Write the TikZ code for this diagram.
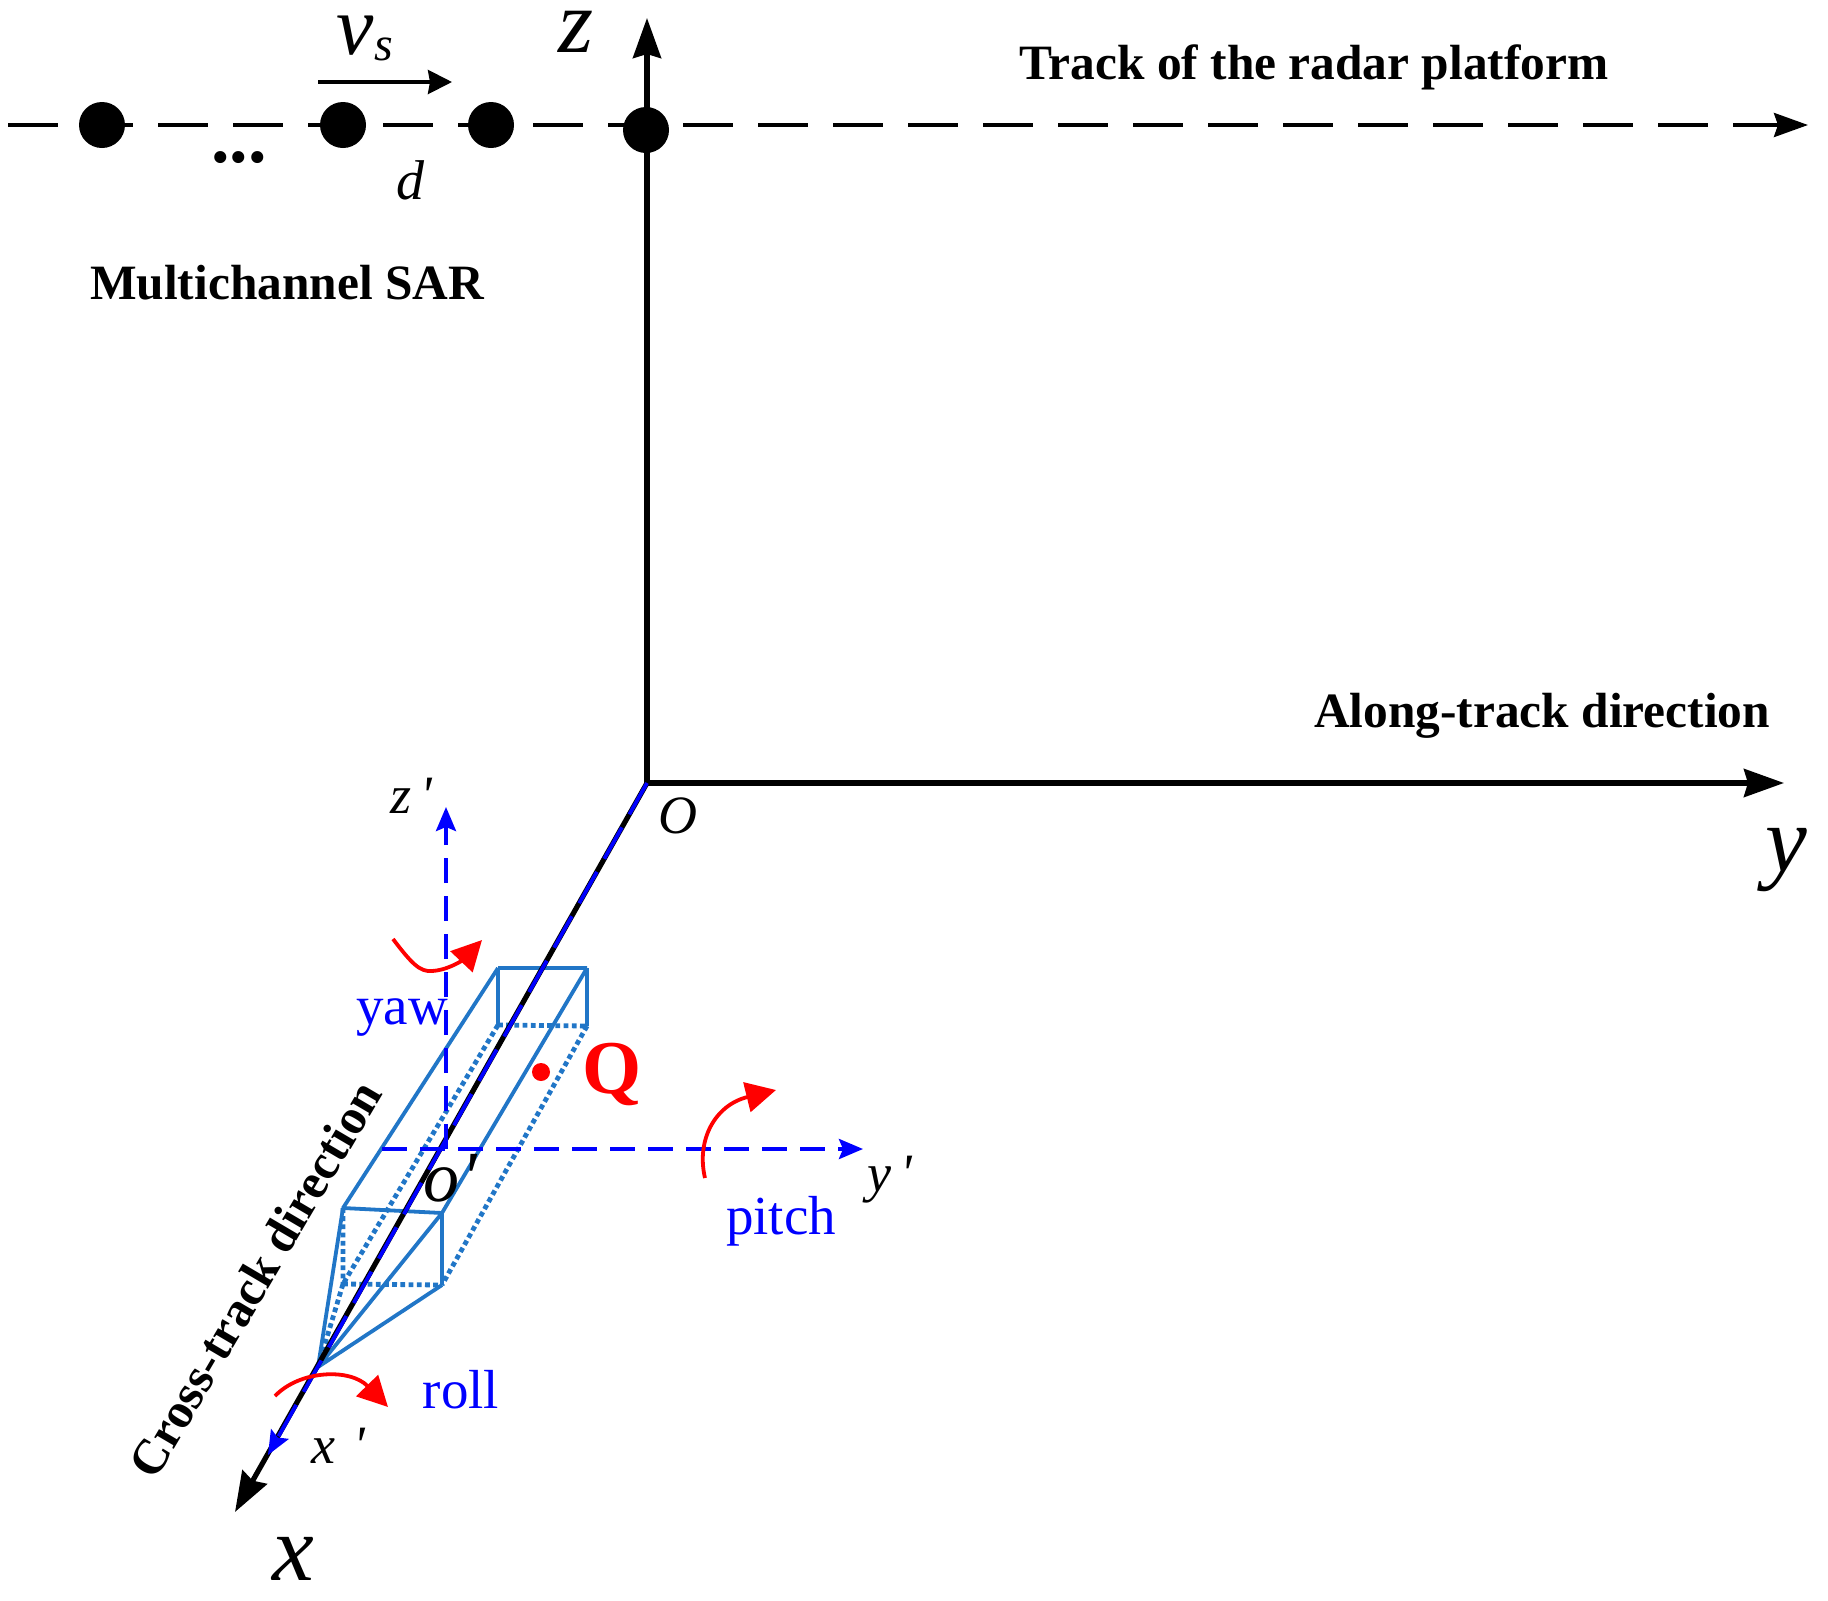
\documentclass[tikz,border=0pt]{standalone}
\usepackage{fontspec}
\setmainfont{Liberation Serif}
\newfontfamily\primefont{Liberation Serif}
\newcommand{\prm}{{\primefont\char39}}
\usetikzlibrary{arrows.meta}
\definecolor{boxblue}{RGB}{33,118,199}
\tikzset{
  ax/.style={line width=2.6pt,-{Stealth[length=20pt,width=14pt,inset=2pt]}},
  trk/.style={line width=1.9pt,dash pattern=on 25pt off 12.5pt,-{Stealth[length=17pt,width=12pt,inset=2pt]}},
  blu/.style={blue,line width=1.9pt,dash pattern=on 12.5pt off 6.5pt},
  bluaxis/.style={blue,line width=1.9pt,dash pattern=on 18pt off 7.5pt},
  blutip/.style={-{Stealth[length=12pt,width=10pt,inset=2pt]}},
  sol/.style={boxblue,line width=1.9pt},
  dot/.style={boxblue,line width=2.4pt,dash pattern=on 2.4pt off 1.7pt},
  rarc/.style={red,line width=1.9pt,-{Triangle[length=15pt,width=15pt]}},
  sat/.style={circle,fill=black,inner sep=0pt,minimum width=23pt,minimum height=23pt},
  lab/.style={font=\bfseries\fontsize{24.7}{28}\selectfont},
  ital/.style={font=\itshape\fontsize{#1}{#1}\selectfont,inner sep=0pt},
  bl/.style={text=blue,font=\fontsize{27.5}{30}\selectfont,inner sep=0pt}
}
\begin{document}
\begin{tikzpicture}[x=0.5pt,y=-0.5pt]
\useasboundingbox (0,0) rectangle (1828,1601);
% anchors
\coordinate (O) at (647,783);
\coordinate (ztip) at (647,18);
\coordinate (ytip) at (1784,783);
\coordinate (xtip) at (235,1512);
\coordinate (xptip) at (268,1455);
\coordinate (tl) at (8,125);
\coordinate (tr) at (1808,125);
\coordinate (zp0) at (446,1149);
\coordinate (zptip) at (446,807);
\coordinate (yp0) at (382,1149);
\coordinate (yptip) at (863,1149);
\coordinate (vs0) at (318,82);
\coordinate (vs1) at (452,82);
\coordinate (A) at (498,968);
\coordinate (B) at (587,968);
\coordinate (C) at (498,1025);
\coordinate (D) at (587,1026);
\coordinate (E) at (343,1208);
\coordinate (F) at (442,1213);
\coordinate (G) at (343,1284);
\coordinate (H) at (442,1285);
\coordinate (P) at (318,1367);
\coordinate (ya) at (393,939);
\coordinate (yb) at (482,940);
\coordinate (pa) at (705,1178);
\coordinate (pb) at (776,1090);
\coordinate (ra) at (275,1396);
\coordinate (rb) at (388,1407);
% track
\draw[trk] (tl) -- (tr);
% box dotted
\draw[dot] (C) -- (D) (G) -- (H) (C) -- (G) (D) -- (H) (E) -- (G) (G) -- (P);
% box solid
\draw[sol] (A) -- (B) (A) -- (C) (B) -- (D) (A) -- (E) (B) -- (F) (E) -- (F) (F) -- (H) (E) -- (P) (F) -- (P) (H) -- (P);
% axes
\draw[ax] (O) -- (ztip);
\draw[ax] (O) -- (ytip);
\draw[ax] (O) -- (xtip);
\draw[bluaxis,blutip] (O) -- (xptip);
\draw[blu,blutip] (zp0) -- (zptip);
\draw[blu,blutip] (yp0) -- (yptip);
\draw[line width=1.8pt,-{Stealth[length=12pt,width=12pt,inset=1pt]}] (vs0) -- (vs1);
% satellites
\node[sat] (s1) at (102,125) {};
\node[sat] (s2) at (343,125) {};
\node[sat] (s3) at (491,125) {};
\node[sat] (s4) at (646,130) {};
% rotation arrows
\draw[rarc] (ya) .. controls (412,964) and (420,972) .. (432,971) .. controls (450,970) and (465,958) .. (yb);
\draw[rarc] (pa) .. controls (696,1140) and (715,1105) .. (pb);
\draw[rarc] (ra) .. controls (300,1370) and (350,1368) .. (rb);
% Q
\node[circle,fill=red,inner sep=0pt,minimum size=9pt] (qdot) at (541,1072) {};
\node[text=red,font=\bfseries\fontsize{38}{40}\selectfont,inner sep=0pt] (q) at (612,1074) {Q};
% labels
\node[lab] (track) at (1314,67) {Track of the radar platform};
\node[lab] (along) at (1542,716) {Along-track direction};
\node[lab] (multi) at (287,283) {Multichannel SAR};
\node[lab,rotate=59.5] (cross) at (255,1279) {Cross-track direction};
\node[bl] (yaw) at (402,1018) {yaw};
\node[bl] (pitch) at (781,1221) {pitch};
\node[bl] (roll) at (461,1390) {roll};
\node[ital=27] (o) at (678,816) {O};
\node[ital=47] (ly) at (1786,860) {y};
\node[ital=47] (lx) at (293,1559) {x};
\node[ital=45] (lz) at (576,32) {z};
\node[ital=27] (xp) at (338,1446) {x\,\,\prm};
\node[ital=27] (yp) at (890,1180) {y\,\prm};
\node[ital=27] (zp) at (411,796) {z\,\prm};
\node[ital=36] (op) at (450,1178) {o\kern1pt\prm};
\node[ital=28] (d) at (410,180) {d};
\node[ital=42] (vs) at (365,38) {v\kern0.5pt\raisebox{-3pt}{\fontsize{24}{24}\selectfont s}};
\node[inner sep=0pt,font=\bfseries\fontsize{37}{37}\selectfont] (dots) at (239,158) {...};
\end{tikzpicture}
\end{document}
